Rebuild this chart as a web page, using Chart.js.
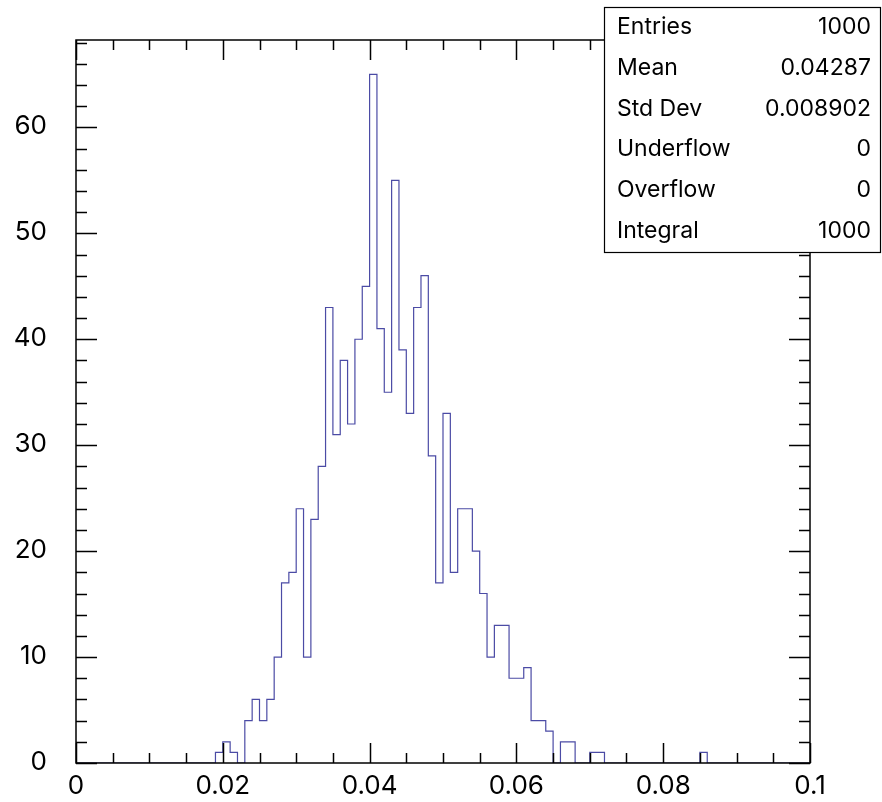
<!DOCTYPE html>
<html>
<head>
<meta charset="utf-8">
<script src="https://cdn.jsdelivr.net/npm/chart.js@4"></script>
<style>
  html, body { margin: 0; padding: 0; background: #fff; }
  canvas { display: block; }
</style>
</head>
<body>
<canvas id="myChart" width="882" height="802"></canvas>
<script>
// histogram binning: 100 bins of width 0.001 starting at 0
const binLow = 0;
const binWidth = 0.001;
const counts = [
  0, 0, 0, 0, 0, 0, 0, 0, 0, 0,
  0, 0, 0, 0, 0, 0, 0, 0, 0, 1,
  2, 1, 0, 4, 6, 4, 6, 10, 17, 18,
  24, 10, 23, 28, 43, 31, 38, 32, 40, 45,
  65, 41, 35, 55, 39, 33, 43, 46, 29, 17,
  33, 18, 24, 24, 20, 16, 10, 13, 13, 8,
  8, 9, 4, 4, 3, 0, 2, 2, 0, 0,
  1, 1, 0, 0, 0, 0, 0, 0, 0, 0,
  0, 0, 0, 0, 0, 1, 0, 0, 0, 0,
  0, 0, 0, 0, 0, 0, 0, 0, 0, 0
];

// axis ranges and tick steps
const xRange = [0, 0.1];
const yRange = [0, 68.25];
const xMajor = 0.02, xMinor = 0.005;
const yMajor = 10, yMinor = 2;

// stats box
const statNames = ['Entries', 'Mean', 'Std Dev', 'Underflow', 'Overflow', 'Integral'];
const statValues = ['1000', '0.04287', '0.008902', '0', '0', '1000'];

const FONT = 'Inter';

// bin edges -> step points (value holds from the left edge to the next edge)
const points = counts.map((c, i) => ({ x: binLow + i * binWidth, y: c }));
points.push({ x: binLow + counts.length * binWidth, y: counts[counts.length - 1] });

// frame with inward ticks on all four sides
const framePlugin = {
  id: 'frame',
  afterDatasetsDraw(chart) {
    const ctx = chart.ctx;
    const a = chart.chartArea;
    const xs = chart.scales.x, ys = chart.scales.y;
    ctx.save();
    ctx.strokeStyle = '#000';
    ctx.lineWidth = 1.5;
    ctx.strokeRect(a.left, a.top, a.right - a.left, a.bottom - a.top);
    ctx.beginPath();
    const nx = Math.round((xRange[1] - xRange[0]) / xMinor);
    for (let k = 0; k <= nx; k++) {
      const v = xRange[0] + k * xMinor;
      const px = Math.round(xs.getPixelForValue(v)) + 0.5;
      const len = (k % Math.round(xMajor / xMinor) === 0) ? 20 : 10;
      ctx.moveTo(px, a.bottom); ctx.lineTo(px, a.bottom - len);
      ctx.moveTo(px, a.top); ctx.lineTo(px, a.top + len);
    }
    const ny = Math.floor((yRange[1] - yRange[0]) / yMinor);
    for (let k = 0; k <= ny; k++) {
      const v = yRange[0] + k * yMinor;
      const py = Math.round(ys.getPixelForValue(v)) + 0.5;
      const len = (k % Math.round(yMajor / yMinor) === 0) ? 21 : 11;
      ctx.moveTo(a.left, py); ctx.lineTo(a.left + len, py);
      ctx.moveTo(a.right, py); ctx.lineTo(a.right - len, py);
    }
    ctx.stroke();
    ctx.restore();
  },
  afterDraw(chart) {
    // statistics box in the top right corner
    const ctx = chart.ctx;
    const bx = 604.5, by = 7.5, bw = 276, bh = 245;
    ctx.save();
    ctx.fillStyle = '#fff';
    ctx.fillRect(bx, by, bw, bh);
    ctx.strokeStyle = '#000';
    ctx.lineWidth = 1.2;
    ctx.strokeRect(bx, by, bw, bh);
    ctx.fillStyle = '#000';
    ctx.font = '23px ' + FONT;
    ctx.textBaseline = 'middle';
    const rowH = bh / statNames.length;
    statNames.forEach((name, i) => {
      const y = by + rowH * (i + 0.5) - 1;
      ctx.textAlign = 'left';
      ctx.fillText(name, 617, y);
      ctx.textAlign = 'right';
      ctx.fillText(statValues[i], 871, y);
    });
    ctx.restore();
  }
};

// pin the plot frame: no extra room reserved for edge labels
function noEdgePadding(s) {
  s.paddingTop = 0; s.paddingBottom = 0;
  s.paddingLeft = 0; s.paddingRight = 0;
}

var ctx = document.getElementById('myChart').getContext('2d');
var myChart = new Chart(ctx, {
  type: 'line',
  data: {
    datasets: [{
      data: points,
      stepped: 'before',
      borderColor: 'rgb(75, 75, 165)',
      borderWidth: 1.2,
      pointRadius: 0,
      fill: false
    }]
  },
  options: {
    responsive: false,
    animation: false,
    layout: { padding: { top: 40, right: 72, bottom: 0, left: 0 } },
    plugins: {
      legend: { display: false },
      tooltip: { enabled: false },
      title: { display: false }
    },
    scales: {
      x: {
        type: 'linear',
        min: xRange[0],
        max: xRange[1],
        grid: { display: false, drawTicks: false },
        border: { display: false },
        ticks: {
          stepSize: xMajor,
          includeBounds: false,
          maxRotation: 0,
          padding: 8,
          color: '#000',
          font: { family: FONT, size: 26 },
          callback: v => String(+v.toFixed(3))
        },
        afterFit(s) { s.height = 39; noEdgePadding(s); }
      },
      y: {
        type: 'linear',
        min: yRange[0],
        max: yRange[1],
        grid: { display: false, drawTicks: false },
        border: { display: false },
        ticks: {
          stepSize: yMajor,
          includeBounds: false,
          padding: 29,
          labelOffset: -1,
          color: '#000',
          font: { family: FONT, size: 26 }
        },
        afterFit(s) { s.width = 76; noEdgePadding(s); }
      }
    }
  },
  plugins: [framePlugin]
});
</script>
</body>
</html>
